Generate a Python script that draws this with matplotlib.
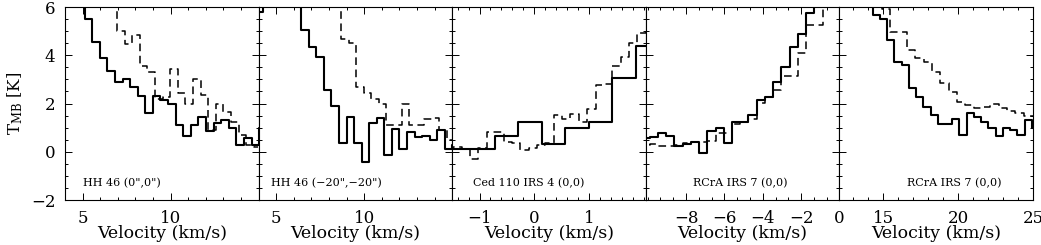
import matplotlib
matplotlib.use("Agg")
import matplotlib.pyplot as plt
import numpy as np
from matplotlib.ticker import MultipleLocator, FixedLocator

plt.rcParams['font.family'] = ['DejaVu Serif']
plt.rcParams['mathtext.fontset'] = 'dejavuserif'

# ---------------- data (T_MB in K, channel grids in km/s) ----------------
# HH 46 (0",0")
hh46a_v0, hh46a_dv = 4.90, 0.431
hh46a_solid = [7.0, 5.5, 4.55, 3.9, 3.36, 2.9, 3.0, 2.67, 2.32, 1.6, 2.3, 2.15, 1.97,
               1.1, 0.65, 1.1, 1.45, 0.87, 1.2, 1.33, 1.0, 0.3, 0.55, 0.3, 1.0]
hh46a_dv0, hh46a_ddv = 6.74, 0.432
hh46a_dash = [8.0, 5.0, 4.45, 4.85, 3.55, 3.3, 2.2, 2.25, 3.45, 2.45, 2.0, 3.0, 2.35,
              0.9, 2.0, 1.65, 1.25, 0.7, 0.3, 0.2]

# HH 46 (-20",-20")
hh46b_v0, hh46b_dv = 4.05, 0.43
hh46b_solid = [5.8, 8, 8, 8, 8, 8, 5.05, 4.35, 3.94, 2.56, 1.9, 0.37, 1.44, 0.37, -0.42,
               1.2, 1.4, -0.15, 0.95, 0.1, 0.8, 0.6, 0.65, 0.5, 0.9, 0.1, 0.3]
hh46b_dv0, hh46b_ddv = 8.04, 0.43
hh46b_dash = [8, 8, 4.66, 4.5, 2.68, 2.43, 2.2, 1.97, 1.1, 1.1, 2.0, 1.1, 1.1, 1.35, 1.4,
              0.9, 0.5, -0.3, 0.3]

# Ced 110 IRS 4 (0,0)
ced_v0, ced_dv = -1.786, 0.428
ced_solid = [0.0, 0.1, 0.1, 0.65, 1.24, 0.32, 0.97, 1.24, 3.07, 4.38]
ced_dv0, ced_ddv = -1.556, 0.153
ced_dash = [0.1, 0.2, 0.1, -0.3, 0.15, 0.83, 0.8, 0.41, 0.35, 0.07, 0.15, 0.3, 0.35,
            1.52, 1.35, 1.55, 1.25, 1.77, 2.76, 2.8, 3.55, 3.94, 4.49, 4.92, 5.0]

# RCrA IRS 7 (0,0), blue side
rcb_v0, rcb_dv = -10.54, 0.4294
rcb_solid = [0.5, 0.55, 0.62, 0.76, 0.65, 0.25, 0.33, 0.4, -0.07, 0.87, 1.0, 0.37, 1.24,
             1.24, 1.53, 2.14, 2.28, 2.9, 3.52, 4.35, 4.87, 5.74, 8, 8, 8, 8]
rcb_dash = [0.3, 0.27, 0.33, 0.25, 0.25, 0.27, 0.35, 0.41, 0.41, 0.46, 0.79, 0.79, 1.15,
            1.24, 1.37, 2.03, 2.25, 2.56, 3.14, 3.14, 4.08, 5.25, 5.25, 8, 8, 8]

# RCrA IRS 7 (0,0), red side
rcr_v0, rcr_dv = 12.60, 0.483
rcr_solid = [8, 8, 8, 8, 5.67, 5.49, 4.63, 3.73, 3.59, 2.63, 2.28, 1.86, 1.52, 1.17, 1.14,
             1.34, 0.69, 1.59, 1.42, 1.24, 1.0, 0.65, 1.0, 0.9, 0.69, 1.3, 1.0]
rcr_dv0, rcr_ddv = 12.97, 0.556
rcr_dash = [8, 8, 8, 6.1, 5.9, 4.98, 4.98, 4.22, 3.9, 3.73, 3.32, 2.83, 2.49, 2.07, 1.93,
            1.83, 1.85, 1.97, 1.8, 1.7, 1.6, 1.5, 1.5]

labels = ['HH 46 (0",0")', 'HH 46 (\u221220",\u221220")', 'Ced 110 IRS 4 (0,0)',
          'RCrA IRS 7 (0,0)', 'RCrA IRS 7 (0,0)']
label_x = [0.093, 0.062, 0.109, 0.242, 0.35]
xlims = [(4.0, 15.0), (4.0, 15.0), (-1.5, 2.04), (-10.1, 0.0), (12.07, 25.0)]
xmajor = [[5, 10], [5, 10], [-1, 0, 1], [-8, -6, -4, -2, 0], [15, 20, 25]]
xminor = [1.0, 1.0, 0.2, 2.0 / 3.0, 1.0]

spectra = [
    (hh46a_v0, hh46a_dv, hh46a_solid, hh46a_dv0, hh46a_ddv, hh46a_dash),
    (hh46b_v0, hh46b_dv, hh46b_solid, hh46b_dv0, hh46b_ddv, hh46b_dash),
    (ced_v0, ced_dv, ced_solid, ced_dv0, ced_ddv, ced_dash),
    (rcb_v0, rcb_dv, rcb_solid, rcb_v0, rcb_dv, rcb_dash),
    (rcr_v0, rcr_dv, rcr_solid, rcr_dv0, rcr_ddv, rcr_dash),
]

# ---------------- plot ----------------
fig, axes = plt.subplots(1, 5, figsize=(10.41, 2.45), dpi=100, sharey=True)
fig.subplots_adjust(left=65 / 1041, right=1033 / 1041, bottom=1 - 200 / 245,
                    top=1 - 7 / 245, wspace=0)

for i, ax in enumerate(axes):
    v0, dv, ts, dv0, ddv, td = spectra[i]
    vs = v0 + dv * np.arange(len(ts))
    vd = dv0 + ddv * np.arange(len(td))
    ax.step(vs, ts, where='mid', color='k', lw=1.5)
    ax.step(vd, td, where='mid', color='k', lw=1.1, dashes=(5, 3))

    ax.set_xlim(*xlims[i])
    ax.set_ylim(-2, 6)
    ax.xaxis.set_major_locator(FixedLocator(xmajor[i]))
    ax.xaxis.set_minor_locator(MultipleLocator(xminor[i]))
    ax.yaxis.set_major_locator(MultipleLocator(2))
    ax.yaxis.set_minor_locator(MultipleLocator(0.5))
    ax.tick_params(which='both', direction='in', top=True, right=True, width=0.7,
                   labelsize=12, pad=7)
    ax.tick_params(which='major', length=5)
    ax.tick_params(which='minor', length=2.5)
    for s in ax.spines.values():
        s.set_linewidth(0.8)
    ax.set_xlabel('Velocity (km/s)', fontsize=12.5, labelpad=-1)
    ax.text(label_x[i], -1.3, labels[i], transform=ax.get_yaxis_transform(),
            fontsize=8, va='center', ha='left')

axes[0].set_ylabel(r'T$_{\rm MB}$ [K]', fontsize=12, labelpad=4)

plt.savefig('out.png', dpi=100)
